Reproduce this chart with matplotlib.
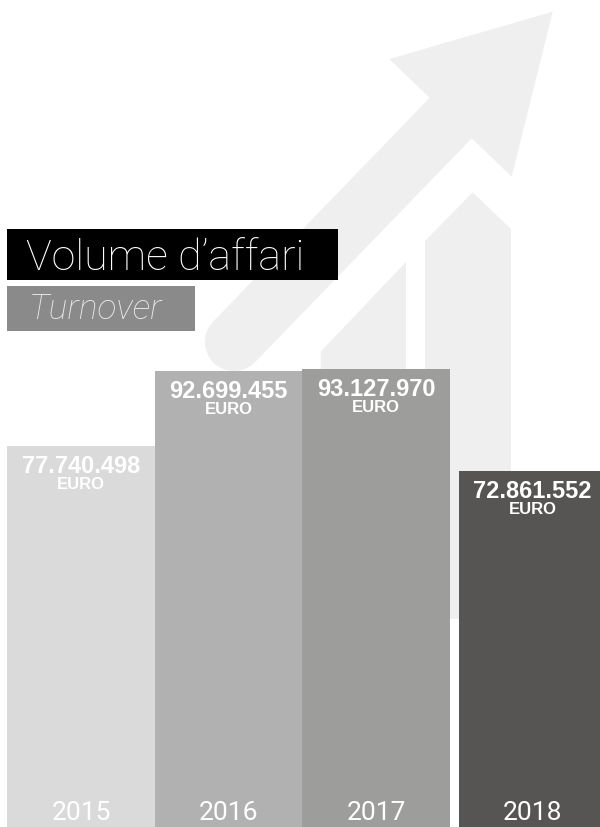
import matplotlib
matplotlib.use("Agg")
import matplotlib.pyplot as plt
from matplotlib.patches import Polygon, Rectangle
import matplotlib.transforms as mtransforms

years = ["2015", "2016", "2017", "2018"]
turnover = [77740498, 92699455, 93127970, 72861552]
bar_colors = ["#dadada", "#b1b1b1", "#9d9d9b", "#565553"]
title = "Volume d\u2019affari"
subtitle = "Turnover"
unit = "EURO"

W, H = 600, 828
fig = plt.figure(figsize=(W / 100, H / 100), dpi=100)
fig.patch.set_facecolor("white")

# background layer in pixel coords (arrow icon + title boxes)
bg = fig.add_axes([0, 0, 1, 1], zorder=0)
bg.set_xlim(0, W)
bg.set_ylim(H, 0)
bg.axis("off")

light = "#efefef"
bg.plot([234, 450.5], [343, 119.3], color=light, lw=42, solid_capstyle="round", zorder=1)
bg.add_patch(Polygon([(389.3, 60), (552.7, 12.7), (511.7, 177.7)], closed=True, color=light, lw=0, zorder=1))
bg.add_patch(Polygon([(425, 620), (425, 242), (472.7, 193.3), (511, 230), (511, 620)], closed=True, color=light, lw=0, zorder=1))
bg.add_patch(Polygon([(320.7, 620), (320.7, 352.7), (406, 263), (406, 620)], closed=True, color=light, lw=0, zorder=1))

bg.add_patch(Rectangle((7, 230), 331, 51, color="black", lw=0, zorder=3))
bg.text(26, 270, title, color="white", fontsize=31, family="Roboto", fontweight="light",
        va="baseline", ha="left", zorder=4)
bg.add_patch(Rectangle((7, 287), 188, 45, color="#8a8a8a", lw=0, zorder=3))
bg.text(29, 319, subtitle, color="#e8e8e8", fontsize=25.5, family="Roboto", fontweight="light",
        style="italic", va="baseline", ha="left", zorder=4)

# bar layer
ax = fig.add_axes([0, 0, 1, 1], zorder=1)
ax.patch.set_alpha(0)
ax.axis("off")

vals = [v / 1e6 for v in turnover]
lefts = [0, 1, 2, 3.06]
ax.bar(lefts, vals, width=1, align="edge", color=bar_colors, lw=0)
ax.set_xlim(-0.0508, 4.017)
ax.set_ylim(2.45, 166.25)

tr = mtransforms.blended_transform_factory(ax.transData, ax.transAxes)
for x, v, raw, yr in zip(lefts, vals, turnover, years):
    label = f"{raw:,}".replace(",", ".")
    ax.annotate(label, xy=(x + 0.5, v), xytext=(0, -18.7), textcoords="offset points",
                ha="center", va="baseline", color="white", fontsize=17,
                family="Liberation Sans", fontweight="bold")
    ax.annotate(unit, xy=(x + 0.5, v), xytext=(0, -30.2), textcoords="offset points",
                ha="center", va="baseline", color="white", fontsize=12,
                family="Liberation Sans", fontweight="bold")
    ax.text(x + 0.5, 8 / H, yr, transform=tr, ha="center", va="baseline",
            color="white", fontsize=19, family="Roboto", fontweight="normal")

fig.savefig("out.png", dpi=100, facecolor="white")
